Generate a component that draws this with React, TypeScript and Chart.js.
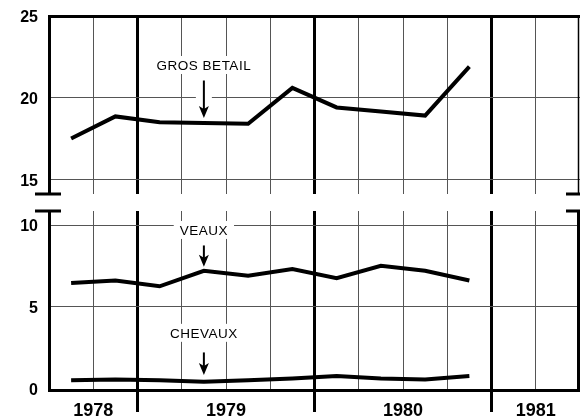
import React, { useEffect, useRef } from 'react';
import { Chart, registerables } from 'chart.js';

Chart.register(...registerables);

// ---- data ----
const quarters = ['1978-T3', '1978-T4', '1979-T1', '1979-T2', '1979-T3', '1979-T4', '1980-T1', '1980-T2', '1980-T3', '1980-T4'];
const grosBetail = [17.5, 18.85, 18.5, 18.45, 18.4, 20.6, 19.4, 19.15, 18.9, 21.9];
const veaux = [6.45, 6.6, 6.25, 7.2, 6.9, 7.3, 6.75, 7.5, 7.2, 6.6];
const chevaux = [0.5, 0.55, 0.5, 0.4, 0.5, 0.6, 0.75, 0.6, 0.55, 0.75];

const topTicks = [15, 20, 25];
const bottomTicks = [0, 5, 10];
const gridTicks = [1978.75, 1979, 1979.25, 1979.5, 1979.75, 1980, 1980.25, 1980.5, 1980.75, 1981, 1981.25];
const yearLabels = ['1978', '1979', '1980', '1981'];
const yearLabelAt = [1978.75, 1979.5, 1980.5, 1981.25];
const xRange = [1978.5, 1981.5];
const topRange = [14.1, 25];
const bottomRange = [-0.1, 10.86];

const topNotes = [{ text: 'GROS BETAIL', x: 1979.375, textY: 22.0, arrowFrom: 21.05, arrowTo: 18.75 }];
const bottomNotes = [
  { text: 'VEAUX', x: 1979.375, textY: 9.7, arrowFrom: 8.75, arrowTo: 7.45 },
  { text: 'CHEVAUX', x: 1979.375, textY: 3.4, arrowFrom: 2.2, arrowTo: 0.82 },
];

const quarterToX = (q: string) => parseInt(q.slice(0, 4), 10) + (parseInt(q.slice(-1), 10) - 0.5) / 4;
const toPoints = (vals: number[]) => vals.map((v, i) => ({ x: quarterToX(quarters[i]), y: v }));

const THIN = '#555';

const decorPlugin = {
  id: 'decor',
  beforeDatasetsDraw(chart: any, _args: any, opts: any) {
    const { ctx, scales } = chart;
    for (const n of opts.notes || []) {
      const px = scales.x.getPixelForValue(n.x);
      const ty = scales.y.getPixelForValue(n.textY);
      const y1 = scales.y.getPixelForValue(n.arrowFrom);
      const y2 = scales.y.getPixelForValue(n.arrowTo);
      ctx.save();
      ctx.font = '13.5px "Liberation Sans", Arial, sans-serif';
      (ctx as any).letterSpacing = '0.5px';
      const w = ctx.measureText(n.text).width;
      ctx.fillStyle = '#fff';
      ctx.fillRect(px - w / 2 - 6, ty - 9, w + 12, 18);
      ctx.fillRect(px - 8, y1 - 2, 16, y2 - y1);
      ctx.fillStyle = '#000';
      ctx.textAlign = 'center';
      ctx.textBaseline = 'middle';
      ctx.fillText(n.text, px, ty + 1);
      ctx.strokeStyle = '#000';
      ctx.lineWidth = 2;
      ctx.beginPath();
      ctx.moveTo(px, y1);
      ctx.lineTo(px, y2 - 8);
      ctx.stroke();
      ctx.beginPath();
      ctx.moveTo(px - 5, y2 - 12);
      ctx.lineTo(px, y2);
      ctx.lineTo(px + 5, y2 - 12);
      ctx.lineTo(px, y2 - 9);
      ctx.closePath();
      ctx.fill();
      ctx.restore();
    }
  },
  afterDraw(chart: any, _args: any, opts: any) {
    const { ctx, chartArea } = chart;
    const yb = opts.breakAt === 'bottom' ? chartArea.bottom : chartArea.top;
    ctx.save();
    ctx.strokeStyle = '#000';
    ctx.lineWidth = 3;
    ctx.beginPath();
    ctx.moveTo(chartArea.left - 14, yb);
    ctx.lineTo(chartArea.left + 12, yb);
    ctx.moveTo(chartArea.right - 14, yb);
    ctx.lineTo(chartArea.right, yb);
    ctx.stroke();
    ctx.lineWidth = opts.breakAt === 'bottom' ? 1.5 : 3;
    ctx.beginPath();
    ctx.moveTo(chartArea.right - 1.5, chartArea.top);
    ctx.lineTo(chartArea.right - 1.5, chartArea.bottom);
    ctx.stroke();
    ctx.restore();
  },
};

function makeChart(
  canvas: HTMLCanvasElement,
  cfg: { series: number[][]; yRange: number[]; yTicks: number[]; bottom: boolean; notes: any[]; padTop: number; xHeight: number }
) {
  return new Chart(canvas, {
    type: 'line',
    data: {
      datasets: cfg.series.map((s) => ({
        data: toPoints(s),
        borderColor: '#000',
        borderWidth: 4,
        pointRadius: 0,
        tension: 0,
        fill: false,
      })),
    },
    options: {
      animation: false,
      responsive: false,
      maintainAspectRatio: false,
      layout: { padding: { top: cfg.padTop, right: 0, left: 0, bottom: 0 } },
      plugins: {
        legend: { display: false },
        tooltip: { enabled: false },
        decor: { notes: cfg.notes, breakAt: cfg.bottom ? 'top' : 'bottom' },
      } as any,
      scales: {
        x: {
          type: 'linear',
          min: xRange[0],
          max: xRange[1],
          afterBuildTicks: (s: any) => {
            s.ticks = gridTicks.map((v) => ({ value: v }));
          },
          afterFit: (s: any) => {
            s.height = cfg.xHeight;
            s.paddingLeft = 0;
            s.paddingRight = 0;
            s.paddingTop = 0;
            s.paddingBottom = 0;
          },
          grid: {
            color: (c: any) => (Number.isInteger(c.tick?.value) ? '#000' : THIN),
            lineWidth: (c: any) => (Number.isInteger(c.tick?.value) ? 3 : 1),
            drawTicks: cfg.bottom,
            tickLength: 22,
            tickColor: (c: any) => (Number.isInteger(c.tick?.value) ? '#000' : 'rgba(0,0,0,0)'),
            tickWidth: (c: any) => (Number.isInteger(c.tick?.value) ? 3 : 1),
          } as any,
          border: { display: cfg.bottom, color: '#000', width: 3 },
          ticks: {
            display: cfg.bottom,
            autoSkip: false,
            maxRotation: 0,
            padding: -12,
            color: '#000',
            font: { family: '"Liberation Sans", Arial, sans-serif', size: 18, weight: 'bold' },
            callback: (v: any) => {
              const i = yearLabelAt.indexOf(Number(v));
              return i >= 0 ? yearLabels[i] : '';
            },
          },
        },
        y: {
          type: 'linear',
          min: cfg.yRange[0],
          max: cfg.yRange[1],
          afterBuildTicks: (s: any) => {
            s.ticks = cfg.yTicks.map((v) => ({ value: v }));
          },
          afterFit: (s: any) => {
            s.width = 49;
            s.paddingLeft = 0;
            s.paddingRight = 0;
            s.paddingTop = 0;
            s.paddingBottom = 0;
          },
          grid: {
            drawTicks: false,
            color: (c: any) => {
              const v = c.tick?.value;
              if (v === 25) return '#000';
              if (v === 0) return 'rgba(0,0,0,0)';
              return THIN;
            },
            lineWidth: (c: any) => (c.tick?.value === 25 ? 3 : 1),
          },
          border: { display: true, color: '#000', width: 3 },
          ticks: {
            padding: 11,
            labelOffset: 2,
            color: '#000',
            font: { family: '"Liberation Sans", Arial, sans-serif', size: 16, weight: 'bold' },
            callback: (v: any) => String(v),
          },
        },
      },
    },
    plugins: [decorPlugin as any],
  });
}

export default function App() {
  const topRef = useRef<HTMLCanvasElement>(null);
  const botRef = useRef<HTMLCanvasElement>(null);

  useEffect(() => {
    document.body.style.margin = '0';
    document.body.style.background = '#fff';
    const c1 = makeChart(topRef.current!, {
      series: [grosBetail],
      yRange: topRange,
      yTicks: topTicks,
      bottom: false,
      notes: topNotes,
      padTop: 16,
      xHeight: 6,
    });
    const c2 = makeChart(botRef.current!, {
      series: [veaux, chevaux],
      yRange: bottomRange,
      yTicks: bottomTicks,
      bottom: true,
      notes: bottomNotes,
      padTop: 11,
      xHeight: 28,
    });
    return () => {
      c1.destroy();
      c2.destroy();
    };
  }, []);

  return (
    <div style={{ position: 'fixed', left: 0, top: 0, width: 580, height: 418, background: '#fff' }}>
      <canvas ref={topRef} width={580} height={200} style={{ position: 'absolute', left: 0, top: 0, width: 580, height: 200 }} />
      <canvas ref={botRef} width={580} height={218} style={{ position: 'absolute', left: 0, top: 200, width: 580, height: 218 }} />
    </div>
  );
}
